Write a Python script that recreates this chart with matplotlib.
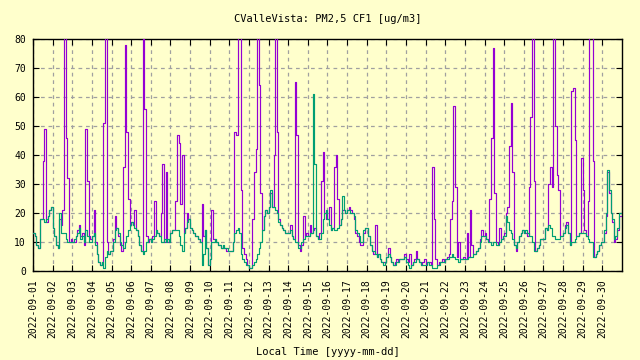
import matplotlib
matplotlib.use("Agg")
import matplotlib.pyplot as plt
import matplotlib.dates as mdates
import pandas as pd

# 2-hourly averages, 12 values per day, 2022-09-01 .. 2022-09-30
start = "2022-09-01"
step_hours = 2
title = "CValleVista: PM2,5 CF1 [ug/m3]"
xlabel = "Local Time [yyyy-mm-dd]"
yticks = [0, 10, 20, 30, 40, 50, 60, 70, 80]

# channel A (purple)
cf1_a = [
    13, 12, 9, 8, 18, 18, 38, 49, 17, 19, 21, 22,      # 09-01
    15, 12, 9, 8, 18, 16, 21, 88, 46, 32, 10, 11,      # 09-02
    10, 10, 12, 14, 16, 12, 13, 9, 49, 31, 12, 11,     # 09-03
    12, 21, 10, 6, 3, 2, 3, 51, 88, 10, 6, 7,          # 09-04
    7, 11, 19, 15, 12, 9, 7, 36, 78, 48, 25, 16,       # 09-05
    17, 16, 21, 14, 12, 9, 7, 88, 56, 12, 10, 11,      # 09-06
    10, 12, 24, 14, 13, 12, 20, 37, 10, 34, 10, 10,    # 09-07
    13, 14, 14, 24, 47, 44, 23, 40, 13, 15, 20, 18,    # 09-08
    15, 14, 13, 12, 12, 11, 10, 23, 12, 14, 8, 2,      # 09-09
    4, 21, 11, 11, 10, 9, 9, 8, 8, 8, 7, 7,            # 09-10
    7, 7, 10, 48, 47, 88, 88, 28, 8, 6, 4, 2,          # 09-11
    1, 1, 18, 34, 42, 88, 64, 27, 14, 19, 21, 20,      # 09-12
    22, 27, 22, 40, 88, 48, 18, 16, 15, 14, 13, 13,    # 09-13
    13, 16, 12, 11, 65, 47, 9, 7, 9, 19, 12, 13,       # 09-14
    12, 16, 13, 14, 15, 12, 11, 13, 31, 41, 20, 18,    # 09-15
    18, 22, 14, 15, 36, 40, 25, 16, 18, 21, 21, 20,    # 09-16
    21, 22, 21, 20, 18, 13, 12, 10, 9, 9, 13, 15,      # 09-17
    15, 12, 9, 7, 6, 16, 5, 6, 4, 3, 3, 3,             # 09-18
    5, 8, 5, 3, 2, 3, 4, 3, 4, 4, 4, 6,                # 09-19
    4, 3, 6, 2, 3, 4, 7, 4, 3, 2, 3, 4,                # 09-20
    2, 3, 3, 2, 36, 18, 4, 2, 3, 3, 4, 3,              # 09-21
    4, 5, 6, 18, 24, 57, 29, 5, 10, 4, 4, 5,           # 09-22
    4, 13, 5, 21, 9, 6, 6, 7, 8, 11, 14, 12,           # 09-23
    13, 11, 10, 25, 46, 77, 27, 10, 9, 15, 11, 12,     # 09-24
    13, 20, 22, 43, 58, 34, 9, 7, 10, 12, 13, 14,      # 09-25
    13, 13, 12, 29, 53, 88, 31, 7, 8, 9, 11, 11,       # 09-26
    11, 15, 14, 30, 36, 29, 88, 50, 33, 28, 12, 12,    # 09-27
    13, 16, 17, 13, 9, 62, 63, 45, 12, 12, 13, 39,     # 09-28
    28, 14, 12, 24, 88, 88, 38, 5, 6, 7, 9, 10,        # 09-29
    10, 13, 19, 34, 27, 20, 17, 10, 11, 14, 19, 19,    # 09-30
]

# channel B (teal)
cf1_b = [
    13, 12, 9, 8, 18, 18, 18, 17, 18, 19, 21, 22,      # 09-01
    15, 12, 9, 8, 20, 13, 13, 13, 11, 10, 10, 10,      # 09-02
    10, 11, 12, 13, 15, 11, 12, 10, 14, 12, 10, 10,    # 09-03
    12, 13, 9, 6, 3, 2, 3, 1, 5, 7, 6, 7,              # 09-04
    7, 10, 14, 15, 13, 10, 9, 8, 10, 12, 14, 16,       # 09-05
    17, 16, 15, 14, 12, 9, 7, 6, 7, 10, 11, 11,        # 09-06
    10, 11, 12, 14, 13, 12, 10, 10, 11, 10, 11, 10,    # 09-07
    13, 14, 14, 14, 14, 12, 9, 7, 13, 15, 17, 18,      # 09-08
    15, 14, 13, 12, 12, 11, 10, 2, 6, 14, 8, 2,        # 09-09
    4, 10, 10, 11, 10, 9, 9, 8, 9, 8, 8, 7,            # 09-10
    7, 7, 10, 13, 14, 15, 13, 6, 4, 3, 2, 2,           # 09-11
    1, 1, 2, 3, 4, 6, 8, 10, 14, 19, 21, 20,           # 09-12
    22, 28, 22, 22, 21, 20, 17, 16, 15, 14, 13, 13,    # 09-13
    13, 14, 12, 11, 10, 10, 8, 8, 10, 11, 12, 12,      # 09-14
    12, 13, 13, 61, 37, 12, 11, 11, 13, 18, 20, 21,    # 09-15
    18, 16, 14, 15, 14, 14, 15, 16, 18, 26, 21, 20,    # 09-16
    21, 21, 20, 20, 19, 14, 13, 12, 10, 10, 14, 15,    # 09-17
    15, 12, 9, 7, 7, 6, 5, 6, 4, 3, 2, 3,              # 09-18
    5, 6, 5, 3, 2, 2, 3, 3, 4, 4, 4, 5,                # 09-19
    3, 2, 1, 2, 3, 3, 4, 4, 3, 2, 2, 2,                # 09-20
    2, 3, 2, 2, 1, 1, 1, 2, 2, 3, 3, 3,                # 09-21
    4, 4, 5, 5, 6, 5, 4, 4, 3, 4, 4, 4,                # 09-22
    4, 4, 5, 5, 5, 6, 6, 7, 8, 10, 12, 12,             # 09-23
    12, 11, 10, 10, 9, 10, 10, 9, 9, 10, 11, 12,       # 09-24
    12, 19, 17, 14, 13, 11, 9, 8, 10, 12, 13, 14,      # 09-25
    13, 14, 13, 12, 12, 10, 7, 7, 8, 9, 11, 11,        # 09-26
    11, 15, 14, 16, 15, 12, 12, 11, 11, 11, 12, 12,    # 09-27
    13, 15, 16, 13, 9, 10, 10, 11, 12, 12, 13, 13,     # 09-28
    13, 13, 12, 11, 10, 10, 5, 5, 6, 7, 9, 10,         # 09-29
    10, 14, 20, 35, 28, 20, 18, 11, 12, 15, 20, 20,    # 09-30
]

BG = "#ffffcc"
PURPLE = "#9400d3"
TEAL = "#009e73"
FONT = "DejaVu Sans Mono"
FS = 7

plt.rcParams["font.family"] = [FONT]

times = pd.date_range(start, periods=len(cf1_a) + 1, freq=f"{step_hours}h")

fig = plt.figure(figsize=(6.4, 3.6), dpi=100, facecolor=BG)
ax = fig.add_axes([33 / 640, 89 / 360, 589 / 640, 232 / 360], facecolor=BG)

ax.step(times, cf1_a + [cf1_a[-1]], where="post", color=PURPLE, lw=0.85, zorder=3)
ax.step(times, cf1_b + [cf1_b[-1]], where="post", color=TEAL, lw=0.85, zorder=4)

ax.set_xlim(times[0], times[-1])
ax.set_ylim(0, 80)
ax.set_yticks(yticks)

ax.xaxis.set_major_locator(mdates.DayLocator())
ax.xaxis.set_major_formatter(mdates.DateFormatter("%Y-%m-%d"))
ticks = ax.get_xticks()
ax.set_xticks(ticks[:-1])

ax.grid(True, color="#a0a0a0", linestyle=(0, (3, 3)), lw=0.9, zorder=1)
ax.set_axisbelow(True)

ax.tick_params(axis="both", direction="in", length=4, width=0.8, top=True, right=True,
               labelsize=FS, colors="black")
ax.tick_params(axis="x", rotation=90, pad=6)
ax.tick_params(axis="y", pad=5)
for lab in ax.get_xticklabels():
    lab.set_family(FONT)
for lab in ax.get_yticklabels():
    lab.set_family(FONT)

for sp in ax.spines.values():
    sp.set_color("black")
    sp.set_linewidth(1.0)

fig.text(327.5 / 640, 1 - 19 / 360, title, ha="center", va="center", fontsize=FS + 0.5, family=FONT)
fig.text(327.5 / 640, 1 - 352 / 360, xlabel, ha="center", va="center", fontsize=FS + 0.5, family=FONT)

fig.savefig("out.png", dpi=100, facecolor=BG)
